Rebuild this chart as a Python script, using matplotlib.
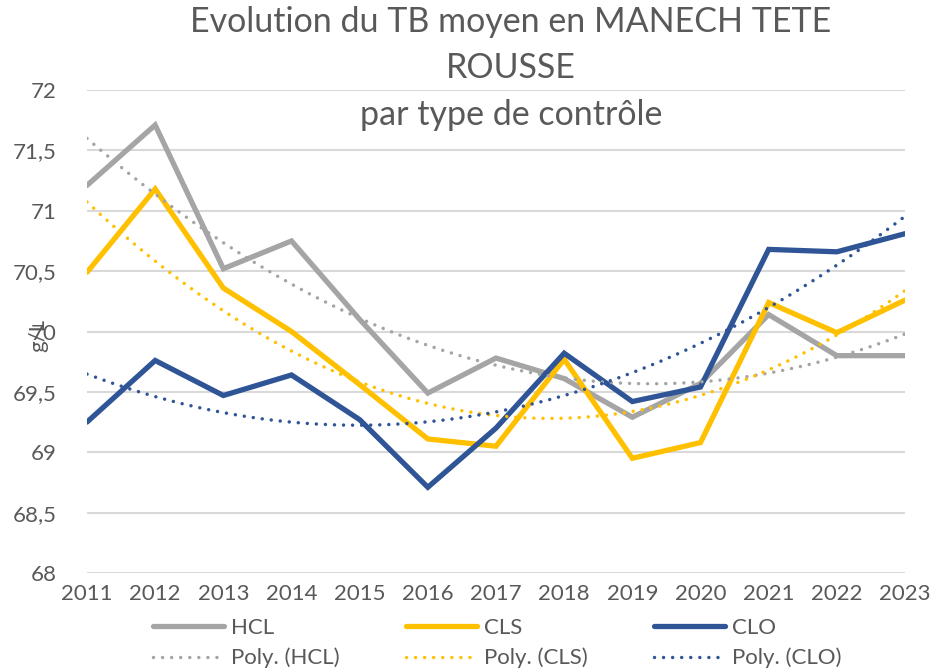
import numpy as np
import matplotlib
matplotlib.use("Agg")
import matplotlib.pyplot as plt

years = [2011, 2012, 2013, 2014, 2015, 2016, 2017, 2018, 2019, 2020, 2021, 2022, 2023]
hcl = [71.21, 71.71, 70.52, 70.75, 70.10, 69.49, 69.78, 69.61, 69.29, 69.57, 70.14, 69.80, 69.80]
cls = [70.49, 71.18, 70.36, 70.00, 69.56, 69.11, 69.05, 69.77, 68.95, 69.08, 70.24, 69.99, 70.26]
clo = [69.25, 69.76, 69.47, 69.64, 69.27, 68.71, 69.20, 69.82, 69.42, 69.54, 70.68, 70.66, 70.81]
series_names = ["HCL", "CLS", "CLO"]
colors = ["#A5A5A5", "#FFC000", "#2F5597"]
title = "Evolution du TB moyen en MANECH TETE\nROUSSE\npar type de contrôle"
ylabel = "g/L"
yticks = [68, 68.5, 69, 69.5, 70, 70.5, 71, 71.5, 72]

plt.rcParams['font.family'] = ['Lato', 'DejaVu Sans']
txt = "#595959"

fig = plt.figure(figsize=(9.43, 6.72), dpi=100)
ax = fig.add_axes([87/943, 1-573/672, (905-87)/943, (573-90)/672])

x = np.array(years, dtype=float)
idx = np.arange(1, len(years)+1, dtype=float)
xf = np.linspace(1, len(years), 300)
xf_years = years[0] + (xf - 1)

handles = {}
for name, vals, c in zip(series_names, [hcl, cls, clo], colors):
    l, = ax.plot(x, vals, color=c, lw=3.8, solid_capstyle='round', solid_joinstyle='miter', zorder=3)
    coef = np.polyfit(idx, vals, 2)
    t, = ax.plot(xf_years, np.polyval(coef, xf), color=c, lw=2.5, linestyle=(0, (0.01, 2.6)),
                 dash_capstyle='round', zorder=4)
    handles[name] = (l, t)

ax.set_xlim(2011, 2023)
ax.set_ylim(68, 72)
ax.set_xticks(years)
ax.set_xticklabels([str(y) for y in years])
ax.set_yticks(yticks)
ax.set_yticklabels([("%g" % v).replace(".", ",") for v in yticks])
ax.tick_params(axis='both', length=0, labelsize=16, colors=txt, pad=8)
ax.tick_params(axis='y', pad=22)
for s in ax.spines.values():
    s.set_visible(False)
ax.grid(axis='y', color="#D9D9D9", lw=1.5, zorder=0)
ax.set_axisbelow(True)

fig.text(511/943, 1-6/672, title, ha='center', va='top', fontsize=24.5, color=txt,
         linespacing=1.55, transform=fig.transFigure)
fig.text(38/943, 1-335/672, ylabel, rotation=90, ha='center', va='center', fontsize=16, color=txt)

order = []
labels = []
for name in series_names:
    order += [handles[name][0], handles[name][1]]
    labels += [name, "Poly. (%s)" % name]
leg = fig.legend(order, labels, ncol=3, loc='center', bbox_to_anchor=(497/943, 1-643/672),
                 frameon=False, fontsize=16, handlelength=3.2, handletextpad=0.3,
                 columnspacing=3.0, labelspacing=0.45, labelcolor=txt)

fig.savefig("out.png", dpi=100)
